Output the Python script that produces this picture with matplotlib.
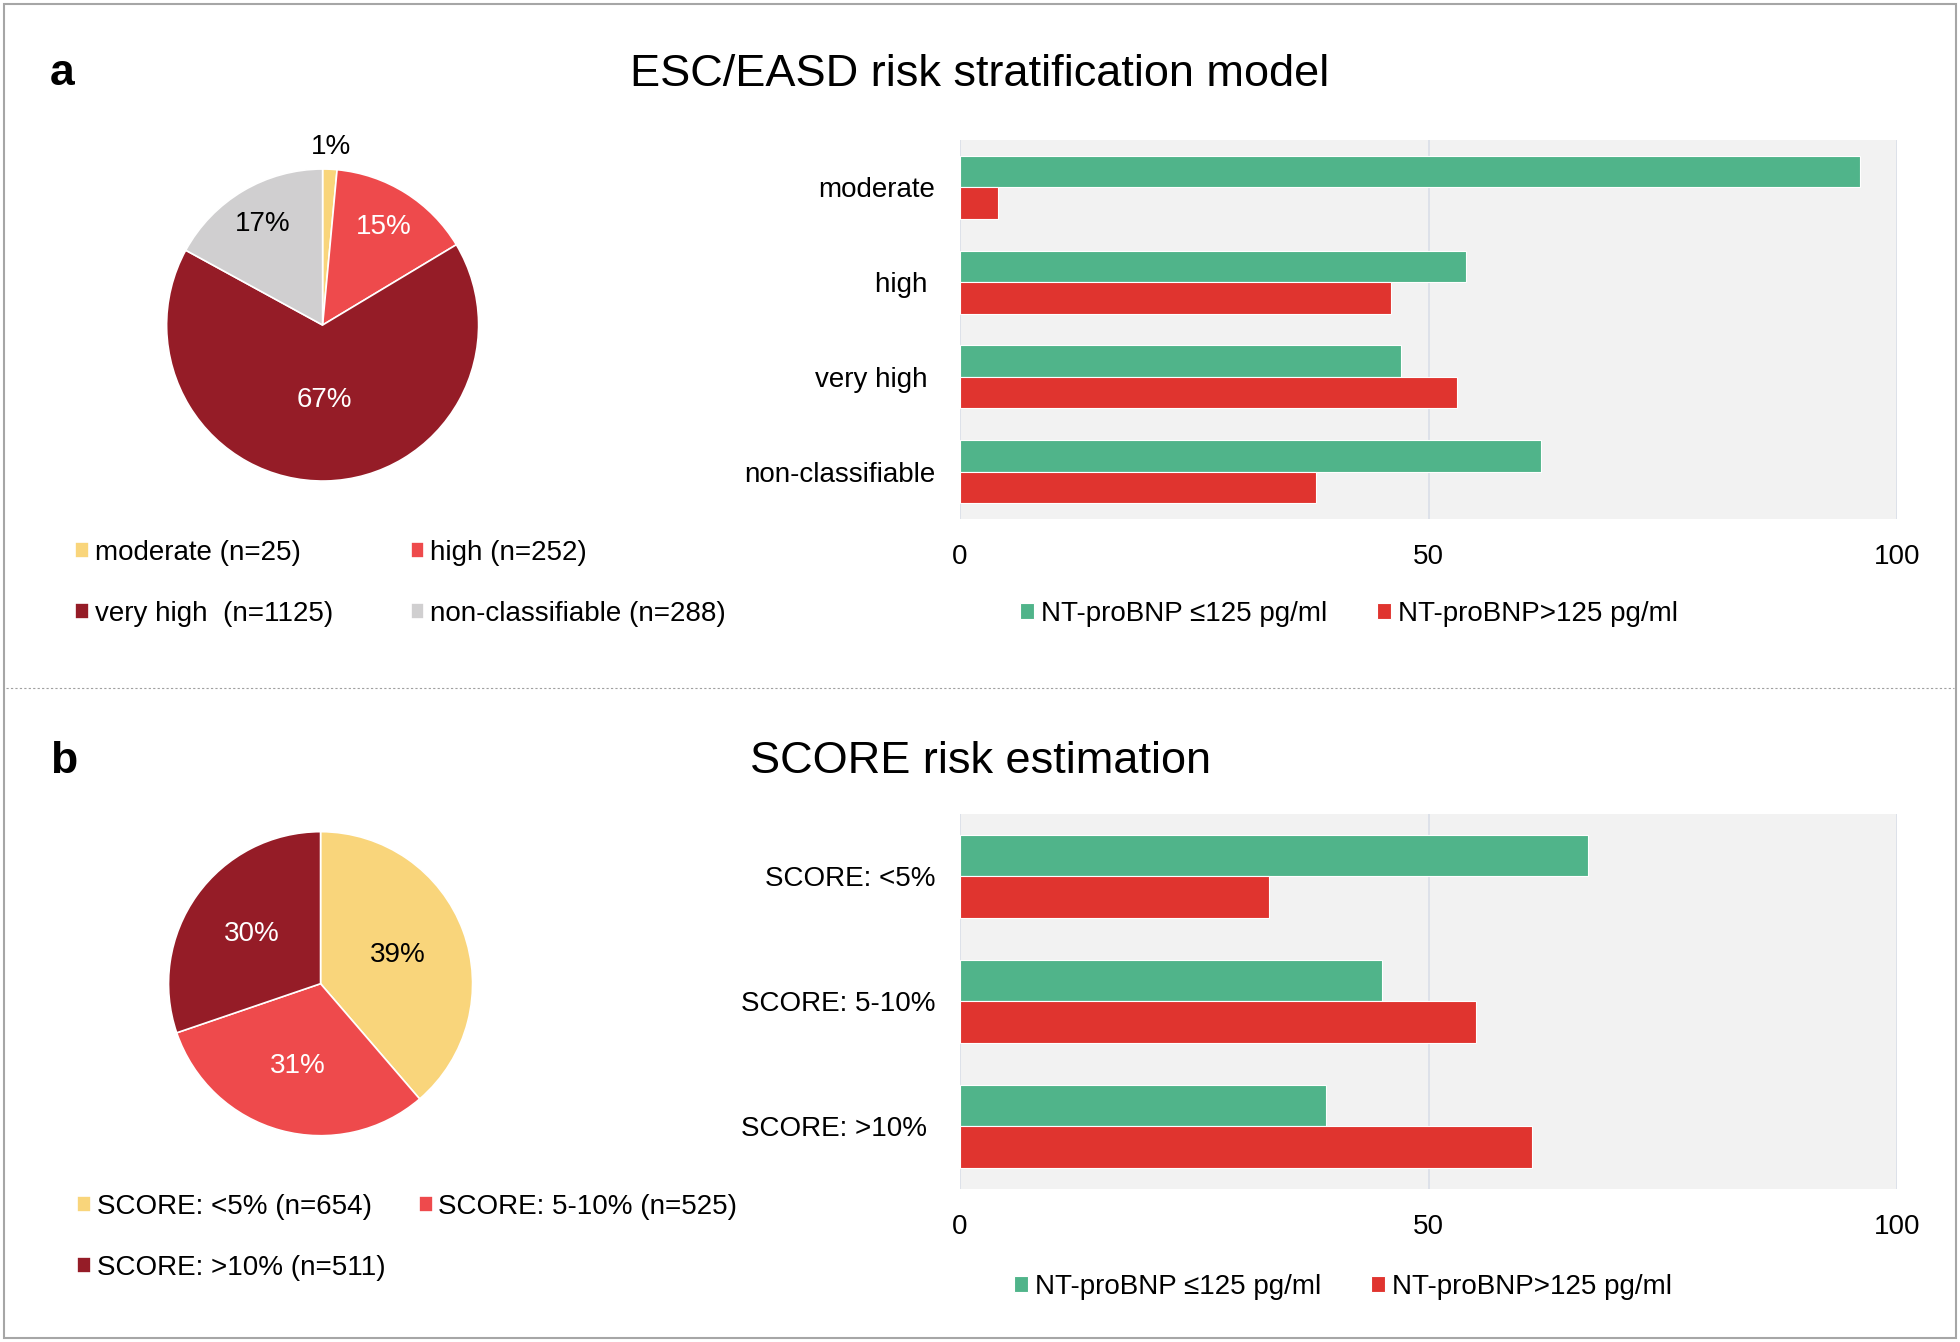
import numpy as np
import matplotlib
matplotlib.use('Agg')
import matplotlib.pyplot as plt
from matplotlib.patches import Rectangle
from matplotlib.lines import Line2D

plt.rcParams['font.family'] = ['Liberation Sans', 'DejaVu Sans']

# --- data: panel a (ESC/EASD)
esc_counts = [25, 252, 1125, 288]
esc_legend = ['moderate (n=25)', 'high (n=252)', 'very high  (n=1125)', 'non-classifiable (n=288)']
esc_ticks = ['moderate', 'high ', 'very high ', 'non-classifiable']
esc_low = [96, 54, 47, 62]
esc_high = [4, 46, 53, 38]

# --- data: panel b (SCORE)
score_counts = [654, 525, 511]
score_legend = ['SCORE: <5% (n=654)', 'SCORE: 5-10% (n=525)', 'SCORE: >10% (n=511)']
score_ticks = ['SCORE: <5%', 'SCORE: 5-10%', 'SCORE: >10% ']
score_low = [67, 45, 39]
score_high = [33, 55, 61]

bnp_names = ['NT-proBNP \u2264125 pg/ml', 'NT-proBNP>125 pg/ml']

YELLOW = '#F9D57B'
RED = '#EE4A4C'
DARKRED = '#951C27'
GREY = '#D0CFD0'
GREEN = '#50B48A'
BARRED = '#E0342F'

fig = plt.figure(figsize=(19.6, 13.42), dpi=100)


def draw_pie(ax, counts, colors, txtcolors, dists):
    wedges, texts, autotexts = ax.pie(counts, colors=colors, startangle=90, counterclock=False,
                                      autopct='%.0f%%',
                                      wedgeprops=dict(edgecolor='white', linewidth=1.2),
                                      textprops=dict(fontsize=20))
    for w, t, c, d in zip(wedges, autotexts, txtcolors, dists):
        ang = np.deg2rad((w.theta1 + w.theta2) / 2)
        t.set_position((d * np.cos(ang), d * np.sin(ang)))
        t.set_color(c)
    ax.set_xlim(-1.25, 1.25)
    ax.set_ylim(-1.25, 1.25)
    return wedges


def draw_bars(ax, ticks, low, high):
    y = np.arange(len(ticks))
    h = 1 / 3
    b1 = ax.barh(y - h / 2, low, height=h, color=GREEN, edgecolor='white', linewidth=0.8)
    b2 = ax.barh(y + h / 2, high, height=h, color=BARRED, edgecolor='white', linewidth=0.8)
    ax.set_ylim(len(ticks) - 0.5, -0.5)
    ax.set_xlim(0, 100)
    ax.set_xticks([0, 50, 100])
    ax.set_yticks(y, ticks)
    ax.set_facecolor('#F2F2F2')
    ax.grid(axis='x', color='#D9DEE8', lw=1.2)
    ax.set_axisbelow(True)
    ax.tick_params(length=0, labelsize=20, pad=18)
    for s in ax.spines.values():
        s.set_visible(False)
    return b1, b2


# panel a
ax1 = fig.add_axes([0.0651, 0.6125, 0.199, 0.2906])
w1 = draw_pie(ax1, esc_counts, [YELLOW, RED, DARKRED, GREY],
              ['black', 'white', 'white', 'black'], [1.14, 0.74, 0.48, 0.75])
order = [0, 2, 1, 3]
fig.legend([w1[i] for i in order], [esc_legend[i] for i in order], ncol=2,
           loc='center left', bbox_to_anchor=(0.0383, 0.5651), frameon=False,
           fontsize=20, handlelength=0.5, handleheight=0.5, handletextpad=0.2,
           columnspacing=2.8, labelspacing=1.27, borderpad=0, borderaxespad=0)

ax2 = fig.add_axes([0.4898, 0.6133, 0.4783, 0.2824])
b1, b2 = draw_bars(ax2, esc_ticks, esc_low, esc_high)
fig.legend([b1, b2], bnp_names, ncol=2, loc='center left', bbox_to_anchor=(0.5204, 0.5428),
           frameon=False, fontsize=20, handlelength=0.5, handleheight=0.5,
           handletextpad=0.25, columnspacing=1.8, borderpad=0, borderaxespad=0)

# panel b
ax3 = fig.add_axes([0.0666, 0.1254, 0.1939, 0.2832])
w3 = draw_pie(ax3, score_counts, [YELLOW, RED, DARKRED],
              ['black', 'white', 'white'], [0.54, 0.56, 0.56])
order = [0, 2, 1]
fig.legend([w3[i] for i in order], [score_legend[i] for i in order], ncol=2,
           loc='center left', bbox_to_anchor=(0.0395, 0.078), frameon=False,
           fontsize=20, handlelength=0.5, handleheight=0.5, handletextpad=0.2,
           columnspacing=1.2, labelspacing=1.27, borderpad=0, borderaxespad=0)

ax4 = fig.add_axes([0.4898, 0.1143, 0.4783, 0.2791])
b3, b4 = draw_bars(ax4, score_ticks, score_low, score_high)
fig.legend([b3, b4], bnp_names, ncol=2, loc='center left', bbox_to_anchor=(0.5173, 0.0413),
           frameon=False, fontsize=20, handlelength=0.5, handleheight=0.5,
           handletextpad=0.25, columnspacing=1.8, borderpad=0, borderaxespad=0)

# titles and panel letters
fig.text(0.5, 0.9443, 'ESC/EASD risk stratification model', ha='center', va='center', fontsize=32.5)
fig.text(0.5, 0.4327, 'SCORE risk estimation', ha='center', va='center', fontsize=32.5)
fig.text(0.0255, 0.9455, 'a', ha='left', va='center', fontsize=32, fontweight='bold')
fig.text(0.0255, 0.4327, 'b', ha='left', va='center', fontsize=32, fontweight='bold')

# frame and separator
fig.add_artist(Rectangle((0.002, 0.003), 0.996, 0.994, transform=fig.transFigure,
                         fill=False, edgecolor='#A6A6A6', lw=1.5))
fig.add_artist(Line2D([0.003, 0.997], [0.4877, 0.4877], transform=fig.transFigure,
                      color='#A0A0A0', lw=0.8, ls=(0, (2, 2))))

fig.savefig('out.png', dpi=100)
